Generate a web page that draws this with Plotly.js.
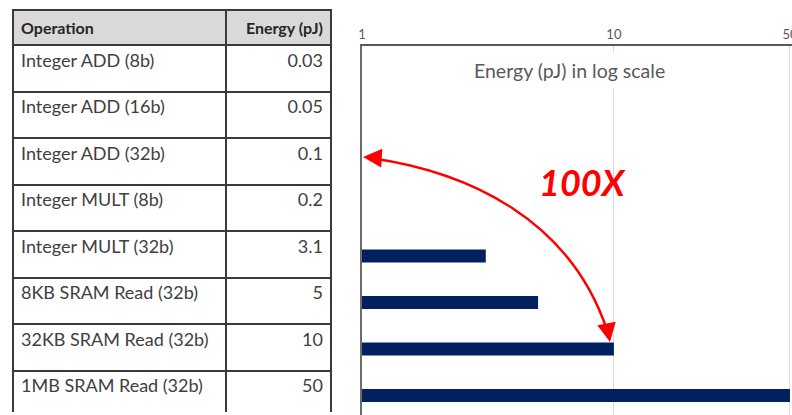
<!DOCTYPE html>
<html>
<head>
<meta charset="utf-8">
<script src="https://cdn.plot.ly/plotly-3.0.1.min.js"></script>
<style>
html,body{margin:0;padding:0;background:#fff;}
#chart{width:792px;height:415px;}
</style>
</head>
<body>
<div id="chart"></div>
<script>
// ---- data ----
var operations = ["Integer ADD (8b)", "Integer ADD (16b)", "Integer ADD (32b)", "Integer MULT (8b)",
                  "Integer MULT (32b)", "8KB SRAM Read (32b)", "32KB SRAM Read (32b)", "1MB SRAM Read (32b)"];
var energyPJ = [0.03, 0.05, 0.1, 0.2, 3.1, 5, 10, 50];
var energyLabels = ["0.03", "0.05", "0.1", "0.2", "3.1", "5", "10", "50"];
var headerLabels = ["Operation", "Energy (pJ)"];
var tickValues = [1, 10, 50];
var tickLabels = ["1", "10", "50"];
var chartTitle = "Energy (pJ) in log scale";
var ratioLabel = "100X";

var W = 792, H = 415;
var font = "Lato, 'Open Sans', sans-serif";

// layout frame: margins small, bar chart placed by axis domains
var mT = 10, mB = 0, mL = 0, mR = 0;
var fw = W - mL - mR, fh = H - mT - mB;
function fx(x){ return (x - mL) / fw; }          // pixel -> paper x
function fy(y){ return (H - mB - y) / fh; }      // pixel -> paper y

// bar plot area in pixels
var pl = 362, pr = 792, pt = 46, pb = 415;

var tableTrace = {
  type: "table",
  domain: { x: [fx(13), fx(332)], y: [fy(412), fy(10)] },
  columnwidth: [214, 105],
  header: {
    values: headerLabels.map(function(h){ return "<b>" + h + "</b>"; }),
    align: ["left", "right"],
    height: 30,
    fill: { color: "#d9d9d9" },
    line: { color: "#3a3a3a", width: 2 },
    font: { family: font, size: 16, color: "#262626" }
  },
  cells: {
    values: [operations, energyLabels],
    align: ["left", "right"],
    height: 46.5,
    fill: { color: "#ffffff" },
    line: { color: "#3a3a3a", width: 2 },
    font: { family: font, size: 18, color: "#404040" }
  }
};

var barTrace = {
  type: "bar",
  orientation: "h",
  x: energyPJ,
  y: operations.map(function(_, i){ return i; }),
  marker: { color: "#002060" },
  width: 0.28,
  hoverinfo: "skip"
};

var layout = {
  width: W, height: H,
  margin: { l: mL, r: mR, t: mT, b: mB, pad: 0 },
  paper_bgcolor: "#ffffff",
  plot_bgcolor: "#ffffff",
  showlegend: false,
  font: { family: font },
  xaxis: {
    type: "log",
    side: "top",
    domain: [fx(pl), fx(pr)],
    range: [0, 1.707],
    tickvals: tickValues,
    ticktext: tickLabels,
    ticks: "",
    ticklabeloverflow: "allow",
    tickfont: { family: font, size: 13, color: "#595959" },
    showgrid: true,
    gridcolor: "#d9d9d9",
    gridwidth: 1,
    showline: true,
    linecolor: "#5a5a5a",
    linewidth: 2,
    zeroline: false,
    fixedrange: true
  },
  yaxis: {
    type: "linear",
    domain: [fy(pb), fy(pt)],
    range: [(pb - 70) / 46.5, (pt - 70) / 46.5],
    showticklabels: false,
    ticks: "",
    showgrid: false,
    zeroline: false,
    showline: true,
    linecolor: "#6b6b6b",
    linewidth: 2,
    fixedrange: true
  },
  shapes: [
    {
      type: "path",
      xref: "paper", yref: "paper",
      path: "M " + fx(370) + " " + fy(158) +
            " C " + fx(470) + " " + fy(172) + " " + fx(570) + " " + fy(220) + " " + fx(607) + " " + fy(330),
      line: { color: "#ff0000", width: 2.5 }
    }
  ],
  annotations: [
    {
      xref: "paper", yref: "paper",
      x: fx(569), y: fy(70),
      xanchor: "center", yanchor: "middle",
      text: chartTitle,
      showarrow: false,
      font: { family: font, size: 19.5, color: "#595959" },
      bgcolor: "#ffffff",
      borderpad: 6
    },
    {
      xref: "paper", yref: "paper",
      x: fx(582), y: fy(182),
      xanchor: "center", yanchor: "middle",
      text: "<b><i>" + ratioLabel + "</i></b>",
      showarrow: false,
      font: { family: font, size: 36, color: "#ff0000" }
    },
    {
      xref: "paper", yref: "paper",
      x: fx(363), y: fy(157),
      text: "",
      showarrow: true,
      ax: 16, ay: 1,
      arrowhead: 2, arrowsize: 1.5, arrowwidth: 2.5,
      arrowcolor: "#ff0000", standoff: 0
    },
    {
      xref: "paper", yref: "paper",
      x: fx(610), y: fy(342),
      text: "",
      showarrow: true,
      ax: -3, ay: -16,
      arrowhead: 2, arrowsize: 1.5, arrowwidth: 2.5,
      arrowcolor: "#ff0000", standoff: 0
    }
  ]
};

Plotly.newPlot("chart", [tableTrace, barTrace], layout, { displayModeBar: false, staticPlot: true });
</script>
</body>
</html>
